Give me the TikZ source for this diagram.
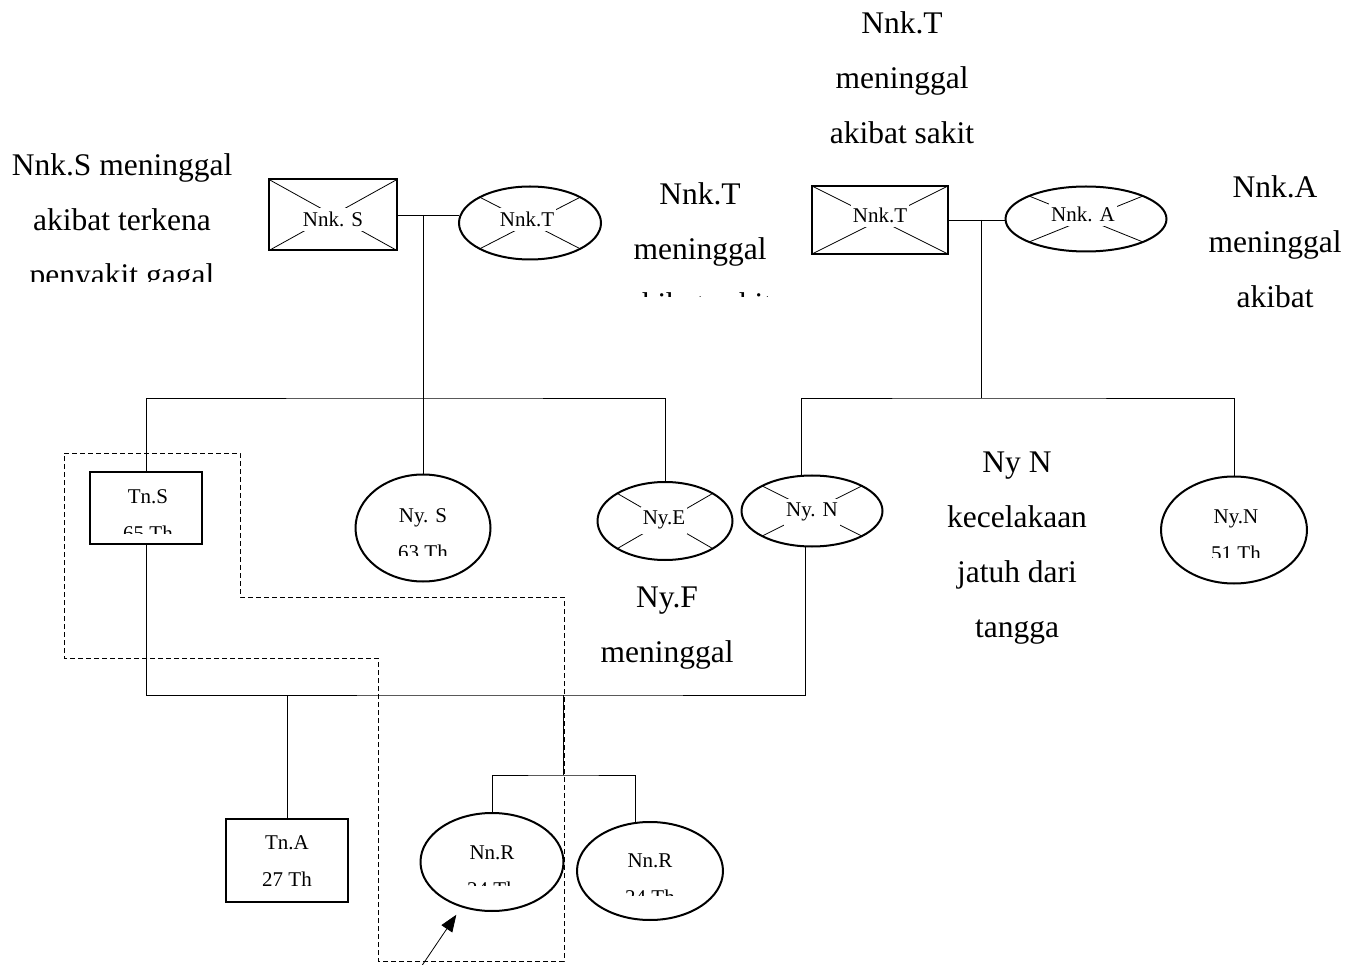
\documentclass[tikz,border=0pt]{standalone}
\usepackage{fontspec}
\setmainfont{Liberation Serif}
\usetikzlibrary{shapes.geometric,arrows.meta,calc}

\begin{document}
\begin{tikzpicture}[x=1pt, y=-1pt,
  person/.style={draw, line width=2pt, outer sep=0pt, inner sep=0pt},
  male/.style={person, rectangle},
  female/.style={person, ellipse},
  idtext/.style={font=\fontsize{21}{37}\selectfont, align=center, inner sep=0pt, anchor=north},
  deadtag/.style={font=\fontsize{21}{25}\selectfont, fill=white, inner xsep=2pt, inner ysep=4pt, anchor=base},
  note/.style={font=\fontsize{31.5}{55}\selectfont, align=center, inner sep=0pt, anchor=north},
  link/.style={line width=0.8pt},
  xline/.style={line width=0.8pt},
  fence/.style={line width=0.8pt, dash pattern=on 5pt off 3pt},
  pointer/.style={line width=0.8pt, -{Triangle[length=17pt,width=13pt]}, shorten >=10pt}]
\useasboundingbox (0,0) rectangle (1361,965);

% grandparents, left
\node[male, minimum width=128pt, minimum height=71pt] (nnkS) at (333,215) {};
\node[female, minimum width=142pt, minimum height=73pt] (nnkT) at (530,223) {};
% grandparents, right
\node[male, minimum width=136pt, minimum height=68pt] (nnkT2) at (880,220) {};
\node[female, minimum width=161pt, minimum height=65pt] (nnkA) at (1086,219) {};

% children
\node[male, minimum width=112pt, minimum height=72pt] (tns) at (146,508) {};
\node[female, minimum width=135pt, minimum height=107pt] (nys) at (423,528) {};
\node[female, minimum width=135pt, minimum height=78pt] (nye) at (665,521) {};
\node[female, minimum width=141pt, minimum height=71pt] (nyn) at (812,511) {};
\node[female, minimum width=146pt, minimum height=107pt] (nyr) at (1234,530) {};

% grandchildren
\node[male, minimum width=122pt, minimum height=83pt] (tna) at (287,860) {};
\node[female, minimum width=143pt, minimum height=98pt] (nnr1) at (492,862) {};
\node[female, minimum width=146pt, minimum height=98pt] (nnr2) at (650,871) {};

% deceased
\foreach \p in {nnkS,nnkT,nnkT2,nnkA,nye,nyn}
  \draw[xline] (\p.north west) -- (\p.south east) (\p.north east) -- (\p.south west);
\node[deadtag] (nnkSt) at (333,227) {Nnk. S};
\node[deadtag] (nnkTt) at (527,227) {Nnk.T};
\node[deadtag] (nnkT2t) at (880,223) {Nnk.T};
\node[deadtag] (nnkAt) at (1083,222) {Nnk. A};
\node[deadtag] (nyet) at (664,525) {Ny.E};
\node[deadtag] (nynt) at (812,517) {Ny. N};

% names and ages
\begin{scope}
\clip (60,470) rectangle (240,533);
\node[idtext] (tnsTxt) at (148,489) {Tn.S\\65 Th};
\end{scope}
\begin{scope}
\clip (350,490) rectangle (500,555);
\node[idtext] (nysTxt) at (423,508) {Ny. S\\63 Th};
\end{scope}
\begin{scope}
\clip (1160,490) rectangle (1310,557);
\node[idtext] (nyrTxt) at (1236,510) {Ny.N\\51 Th};
\end{scope}
\node[idtext] (tnaTxt) at (287,835) {Tn.A\\27 Th};
\begin{scope}
\clip (420,820) rectangle (565,885);
\node[idtext] (nnr1Txt) at (492,846) {Nn.R\\24 Th};
\end{scope}
\begin{scope}
\clip (577,830) rectangle (722,895);
\node[idtext] (nnr2Txt) at (650,854) {Nn.R\\24 Th};
\end{scope}

% notes
\begin{scope}
\clip (0,130) rectangle (260,282);
\node[note] (noteS) at (122,153.5) {Nnk.S meninggal\\akibat terkena\\penyakit gagal};
\end{scope}
\node[note] (noteT1) at (902,11.5) {Nnk.T\\meninggal\\akibat sakit};
\begin{scope}
\clip (600,170) rectangle (800,297);
\node[note] (noteT2) at (700,182.5) {Nnk.T\\meninggal\\akibat sakit};
\end{scope}
\node[note] (noteA) at (1275,175.5) {Nnk.A\\meninggal\\akibat};
\node[note] (noteN) at (1017,452) {Ny N\\kecelakaan\\jatuh dari\\tangga};
\node[note] (noteF) at (667,587) {Ny.F\\meninggal};

% family lines
\coordinate (sibL) at (423,398);
\coordinate (sibR) at (981,398);
\coordinate (wed) at (563,695);
\coordinate (sibB) at (563,775);
\coordinate (arrowTail) at (421,967);

\draw[link] (nnkS.east) -- (nnkS.east -| nnkT.west);
\draw[link] (nnkS.east -| sibL) -- (sibL);
\draw[link] (tns.north) |- (sibL) -| (nye.north);
\draw[link] (sibL) -- (nys.north);

\draw[link] (nnkT2.east) -- (nnkT2.east -| nnkA.west);
\draw[link] (nnkT2.east -| sibR) -- (sibR);
\draw[link] ($(nyn.north)+(-11,0)$) |- (sibR) -| (nyr.north);

\draw[link] (tns.south) |- (wed) -| ($(nyn.south)+(-7,0)$);
\draw[link] (tna.north) -- (tna.north |- wed);
\draw[link] (wed) -- (sibB);
\draw[link] (nnr1.north) |- (sibB) -| ($(nnr2.north)+(-15,1)$);

% household
\draw[fence] (64,453) -- (240,453) -- (240,597) -- (564,597) -- (564,961)
  -- (378,961) -- (378,658) -- (64,658) -- cycle;

\draw[pointer] (arrowTail) -- (nnr1);
\end{tikzpicture}
\end{document}
